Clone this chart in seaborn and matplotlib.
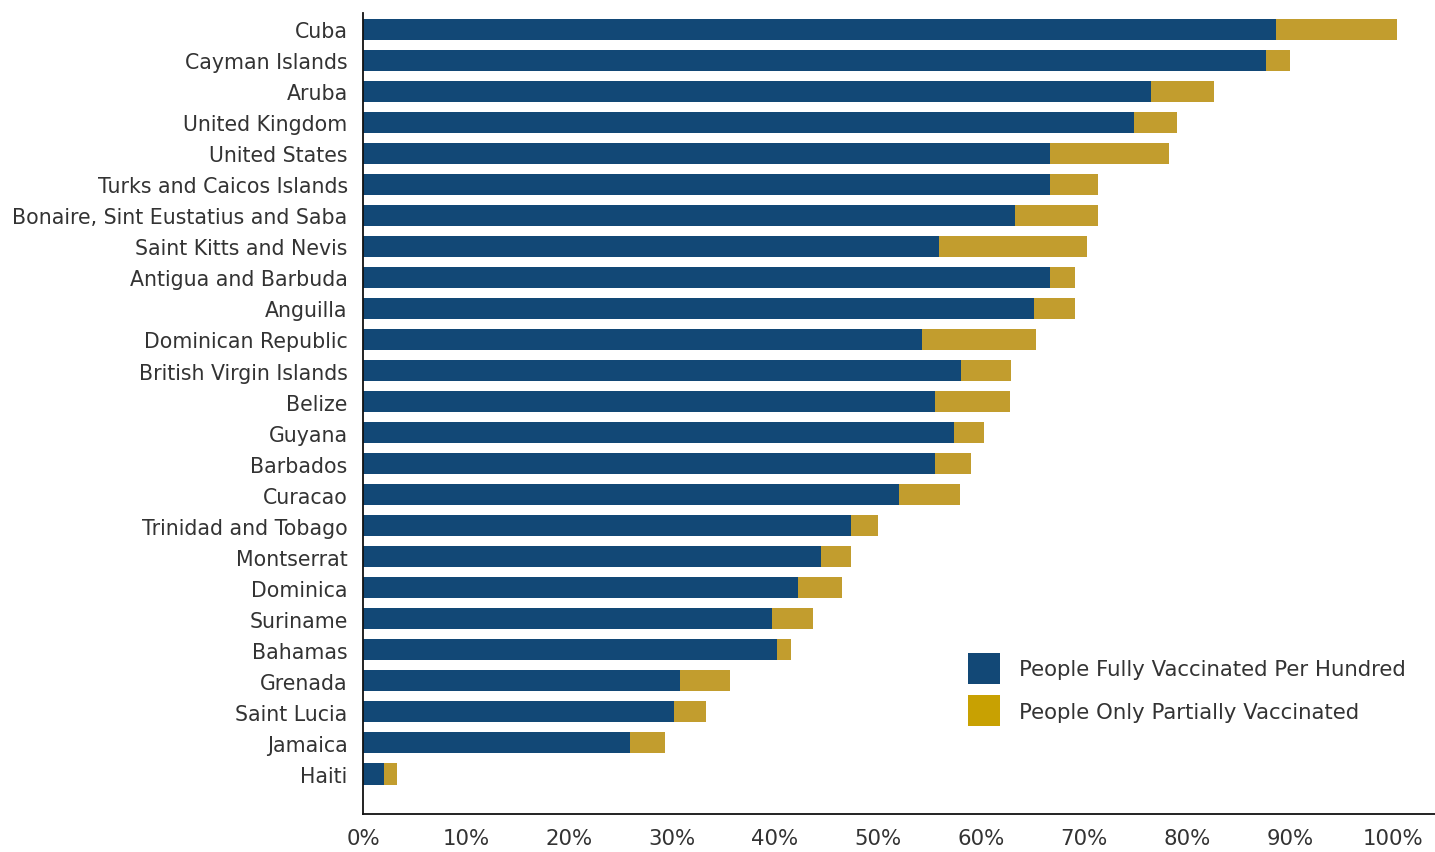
import matplotlib
matplotlib.use("Agg")
import matplotlib.pyplot as plt
import matplotlib.patches as mpatches
import pandas as pd
import seaborn as sns

# dados (% da população)
paises = [
    "Cuba", "Cayman Islands", "Aruba", "United Kingdom", "United States",
    "Turks and Caicos Islands", "Bonaire, Sint Eustatius and Saba",
    "Saint Kitts and Nevis", "Antigua and Barbuda", "Anguilla",
    "Dominican Republic", "British Virgin Islands", "Belize", "Guyana",
    "Barbados", "Curacao", "Trinidad and Tobago", "Montserrat", "Dominica",
    "Suriname", "Bahamas", "Grenada", "Saint Lucia", "Jamaica", "Haiti",
]
totalmente = [
    88.6, 87.7, 76.5, 74.9, 66.7, 66.7, 63.3, 55.9, 66.7, 65.1,
    54.3, 58.1, 55.5, 57.4, 55.5, 52.0, 47.4, 44.5, 42.2, 39.7,
    40.2, 30.8, 30.2, 25.9, 2.0,
]
parcialmente = [
    11.8, 2.3, 6.1, 4.1, 11.6, 4.7, 8.1, 14.4, 2.4, 4.0,
    11.0, 4.8, 7.3, 2.9, 3.5, 6.0, 2.6, 2.9, 4.3, 4.0,
    1.4, 4.8, 3.1, 3.4, 1.3,
]
ticks_x = [0, 10, 20, 30, 40, 50, 60, 70, 80, 90, 100]
legendas = ["People Fully Vaccinated Per Hundred", "People Only Partially Vaccinated"]

AZUL = "#124876"
OURO = "#C29D2E"
OURO_LEG = "#C8A102"
TEXTO = "#333333"

sns.set_style("white")
plt.rcParams.update({
    "font.family": ["DejaVu Sans"],
    "font.size": 14,
})

df = pd.DataFrame({"Pais": paises, "Total": totalmente, "Parcial": parcialmente})
df["Soma"] = df["Total"] + df["Parcial"]

fig = plt.figure(figsize=(14.35, 8.53), dpi=100)
ax = fig.add_axes([363 / 1435, 38 / 853, 1 - 363 / 1435, (815 - 14) / 853])

# barra empilhada: primeiro a soma (dourado), depois o total (azul) por cima
sns.barplot(data=df, x="Soma", y="Pais", color=OURO, saturation=1,
            width=0.68, ax=ax, orient="h", linewidth=0)
sns.barplot(data=df, x="Total", y="Pais", color=AZUL, saturation=1,
            width=0.68, ax=ax, orient="h", linewidth=0)

ax.set_xlim(0, (1435 - 363) / 10.3)
ax.set_ylim(len(paises) - 1 + 1.29, -0.52)
ax.set_xticks(ticks_x)
ax.set_xticklabels([f"{t}%" for t in ticks_x])
ax.set_xlabel("")
ax.set_ylabel("")

for lado in ["top", "right"]:
    ax.spines[lado].set_visible(False)
for lado in ["left", "bottom"]:
    ax.spines[lado].set_color("#111111")
    ax.spines[lado].set_linewidth(1.3)

ax.tick_params(axis="x", direction="inout", length=13.5, width=1.1,
               color="#111111", labelsize=15.3, labelcolor=TEXTO, pad=3)
ax.tick_params(axis="y", length=0, labelsize=14.8, labelcolor=TEXTO, pad=11)

handles = [mpatches.Patch(color=AZUL, linewidth=0),
           mpatches.Patch(color=OURO_LEG, linewidth=0)]
fig.legend(handles, legendas, loc="upper left",
           bbox_to_anchor=(968 / 1435, 1 - 654 / 853),
           frameon=False, borderpad=0, borderaxespad=0,
           handlelength=1.5, handleheight=1.85, handletextpad=0.9,
           labelspacing=0.55, fontsize=15.3, labelcolor=TEXTO)

plt.savefig("out.png", dpi=100)
